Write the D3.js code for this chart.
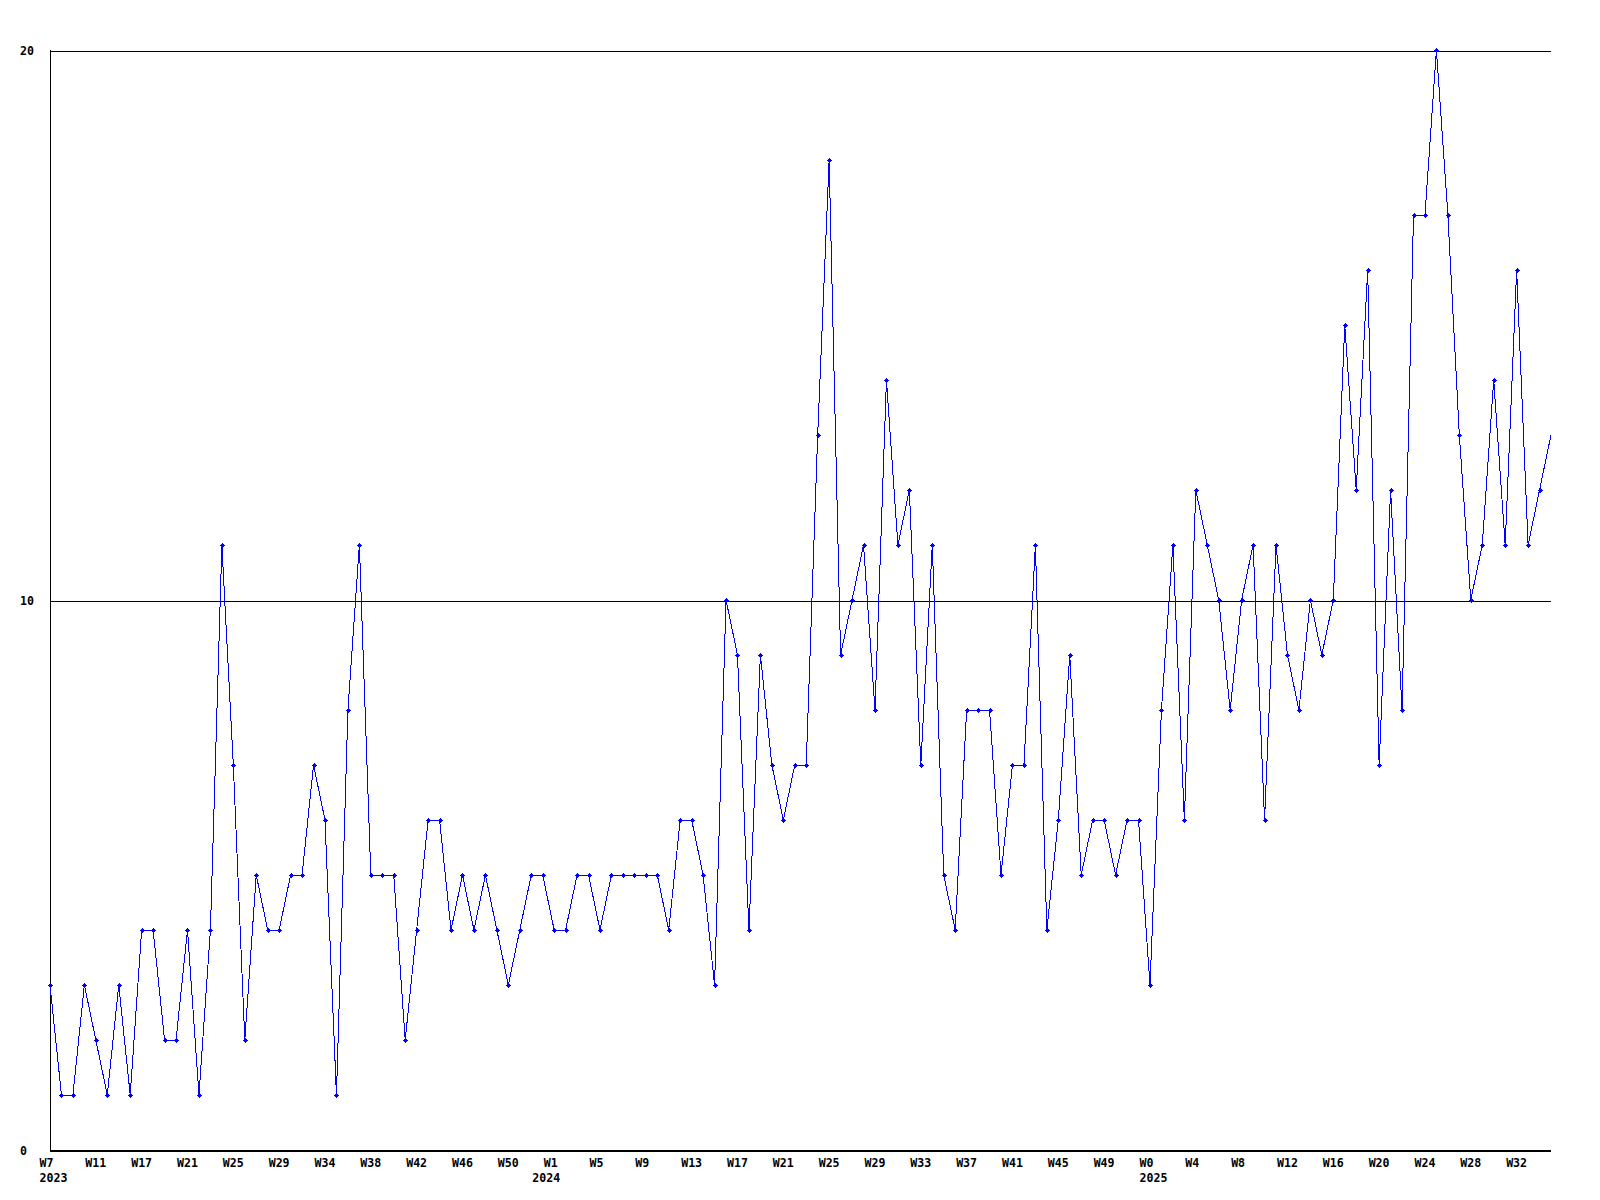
<!DOCTYPE html>
<html>
<head>
<meta charset="utf-8">
<script src="https://cdn.jsdelivr.net/npm/d3@7"></script>
<style>
  html, body { margin: 0; padding: 0; background: #ffffff; }
  svg { display: block; }
  text { font-family: "DejaVu Sans Mono", "Liberation Mono", monospace; font-weight: bold; font-size: 11.6px; fill: #000; }
</style>
</head>
<body>
<svg id="chart" width="1600" height="1200"></svg>
<script>
// ---- data ----
const values = [
  3, 1, 1, 3, 2, 1, 3, 1, 4, 4,
  2, 2, 4, 1, 4, 11, 7, 2, 5, 4,
  4, 5, 5, 7, 6, 1, 8, 11, 5, 5,
  5, 2, 4, 6, 6, 4, 5, 4, 5, 4,
  3, 4, 5, 5, 4, 4, 5, 5, 4, 5,
  5, 5, 5, 5, 4, 6, 6, 5, 3, 10,
  9, 4, 9, 7, 6, 7, 7, 13, 18, 9,
  10, 11, 8, 14, 11, 12, 7, 11, 5, 4,
  8, 8, 8, 5, 7, 7, 11, 4, 6, 9,
  5, 6, 6, 5, 6, 6, 3, 8, 11, 6,
  12, 11, 10, 8, 10, 11, 6, 11, 9, 8,
  10, 9, 10, 15, 12, 16, 7, 12, 8, 17,
  17, 20, 17, 13, 10, 11, 14, 11, 16, 11,
  12, 13
];
const weekLabels = ["W7","W11","W17","W21","W25","W29","W34","W38","W42","W46","W50",
  "W1","W5","W9","W13","W17","W21","W25","W29","W33","W37","W41","W45","W49",
  "W0","W4","W8","W12","W16","W20","W24","W28","W32"];
const labelEvery = 4;
const yearLabels = ["2023", "2024", "2025"];
const yearIndex = [0, 43, 96];
const yTicks = [0, 10, 20];

// ---- layout ----
const mLeft = 50, mRight = 1551, mTop = 50, mBottom = 1150;
const svg = d3.select("#chart");

const x = d3.scaleLinear().domain([0, values.length - 1]).range([mLeft, mRight]);
const y = d3.scaleLinear().domain([0, 20]).range([mBottom, mTop]);

// y axis with grid lines
const yAxis = d3.axisLeft(y).tickValues(yTicks).tickSize(-(mRight - mLeft)).tickFormat(d3.format("d"));
const gy = svg.append("g").attr("transform", `translate(${mLeft},0.5)`).call(yAxis);
gy.select(".domain").remove();
gy.attr("font-family", null).attr("font-size", null);
gy.selectAll(".tick line").attr("stroke", "#000").attr("stroke-width", 1).attr("shape-rendering", "crispEdges");
gy.selectAll(".tick text")
  .attr("text-anchor", "start")
  .attr("x", 20 - mLeft)
  .attr("dy", null)
  .attr("y", 4);

// axes lines (left and bottom)
svg.append("line").attr("x1", mLeft + 0.5).attr("x2", mLeft + 0.5).attr("y1", mTop).attr("y2", mBottom + 1)
  .attr("stroke", "#000").attr("shape-rendering", "crispEdges");
svg.append("line").attr("x1", mLeft).attr("x2", mRight).attr("y1", mBottom + 0.5).attr("y2", mBottom + 0.5)
  .attr("stroke", "#000").attr("shape-rendering", "crispEdges");

// x axis week labels
const tickIdx = weekLabels.map((_, i) => i * labelEvery);
const xAxis = d3.axisBottom(x).tickValues(tickIdx).tickSize(0).tickFormat((d, i) => weekLabels[i]);
const gx = svg.append("g").attr("transform", `translate(0,${mBottom})`).call(xAxis);
gx.select(".domain").remove();
gx.attr("font-family", null).attr("font-size", null);
gx.selectAll(".tick text")
  .attr("text-anchor", "start")
  .attr("x", -11)
  .attr("y", 17)
  .attr("dy", null);

// year labels
const yearAxis = d3.axisBottom(x).tickValues(yearIndex).tickSize(0).tickFormat((d, i) => yearLabels[i]);
const gyr = svg.append("g").attr("transform", `translate(0,${mBottom})`).call(yearAxis);
gyr.select(".domain").remove();
gyr.attr("font-family", null).attr("font-size", null);
gyr.selectAll(".tick text")
  .attr("text-anchor", "start")
  .attr("x", -11)
  .attr("y", 31.5)
  .attr("dy", null);

// line
const line = d3.line().x((d, i) => x(i)).y(d => y(d));
svg.append("path")
  .datum(values)
  .attr("d", line)
  .attr("fill", "none")
  .attr("stroke", "#0000ff")
  .attr("stroke-width", 1)
  .attr("shape-rendering", "crispEdges");

// markers: small bold plus (last point sits on the right edge without marker)
const plusType = {
  draw(ctx) {
    const p = [[-2.5,-0.5],[-1.5,-0.5],[-1.5,-1.5],[-0.5,-1.5],[-0.5,-2.5],[0.5,-2.5],[0.5,-1.5],[1.5,-1.5],
               [1.5,-0.5],[2.5,-0.5],[2.5,0.5],[1.5,0.5],[1.5,1.5],[0.5,1.5],[0.5,2.5],[-0.5,2.5],
               [-0.5,1.5],[-1.5,1.5],[-1.5,0.5],[-2.5,0.5]];
    ctx.moveTo(p[0][0], p[0][1]);
    for (let k = 1; k < p.length; k++) ctx.lineTo(p[k][0], p[k][1]);
    ctx.closePath();
  }
};
const marker = d3.symbol().type(plusType);
svg.append("g").selectAll("path")
  .data(values.slice(0, values.length - 1))
  .join("path")
  .attr("transform", (d, i) => `translate(${Math.round(x(i)) + 0.5},${Math.round(y(d)) + 0.5})`)
  .attr("d", marker)
  .attr("fill", "#0000ff")
  .attr("shape-rendering", "crispEdges");
</script>
</body>
</html>
